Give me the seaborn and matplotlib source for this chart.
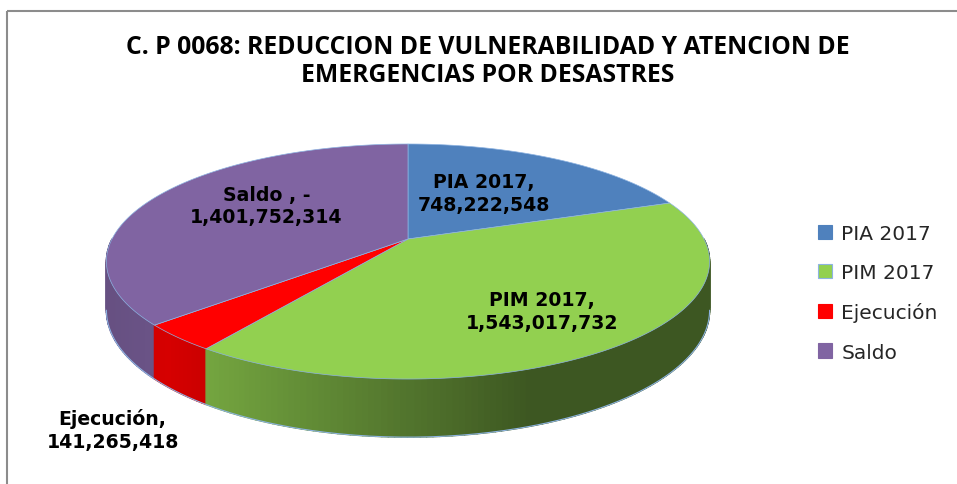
import numpy as np
import matplotlib
matplotlib.use("Agg")
import matplotlib.pyplot as plt
from matplotlib.collections import PolyCollection
from matplotlib.patches import Polygon, Rectangle, Patch
import seaborn as sns

# data
title_lines = ["C. P 0068: REDUCCION DE VULNERABILIDAD Y ATENCION DE",
               "EMERGENCIAS POR DESASTRES"]
categories = ["PIA 2017", "PIM 2017", "Ejecución", "Saldo"]
values = [748222548, 1543017732, 141265418, 1401752314]
label_texts = ["PIA 2017,\n748,222,548", "PIM 2017,\n1,543,017,732",
               "Ejecución,\n141,265,418", "Saldo , -\n1,401,752,314"]
colors = ["#4f81bd", "#92d050", "#ff0000", "#8064a2"]

# layout of the fake 3d pie (pixels)
CX, CY = 408, 240
A, B = 296, 113.2
P = 0.1915
DEPTH = 47
# label placement: radius, dx, dy
label_pos = [(0.54, -9, 0), (0.71, -9, 0), (1.2, -10, 68), (0.6, 13, -7)]


def project(theta, r=1.0, drop=0.0):
    th = np.radians(theta)
    w = 1 + P * r * np.sin(th)
    x = CX + A * r * np.cos(th) / w
    y = CY - B * r * np.sin(th) / w + drop / w
    return x, y


def shade(color, x):
    t = (x - (CX - 300)) / 600
    f = np.interp(t, [0.0, 0.1, 0.7, 1.0], [0.8, 0.84, 0.42, 0.42])
    rgb = np.array(matplotlib.colors.to_rgb(color))
    return tuple(np.clip(rgb * f, 0, 1))


def main():
    sns.set_theme(style="white")
    pal = sns.color_palette(colors)

    fig = plt.figure(figsize=(9.57, 4.85), dpi=100)
    ax = fig.add_axes([0, 0, 1, 1])
    ax.set_xlim(0, 957)
    ax.set_ylim(485, 0)
    ax.axis("off")

    ax.add_patch(Rectangle((7, 12), 980, 500, fill=False,
                           edgecolor="#8c8c8c", lw=1.5, clip_on=False))

    total = sum(values)
    spans = [v / total * 360 for v in values]
    starts = []
    a = 90.0
    for s in spans:
        starts.append(a)
        a -= s

    # side wall, front half only
    quads, qcols, depth_key = [], [], []
    for i, (st, sp) in enumerate(zip(starts, spans)):
        hi, lo = st, st - sp
        for off in (0, -360, 360):
            h2, l2 = min(hi + off, 0), max(lo + off, -180)
            if h2 <= l2:
                continue
            th = np.linspace(l2, h2, max(int(h2 - l2), 1) + 1)
            for t1, t2 in zip(th[:-1], th[1:]):
                x1, y1 = project(t1)
                x2, y2 = project(t2)
                _, b1 = project(t1, drop=DEPTH)
                _, b2 = project(t2, drop=DEPTH)
                quads.append([(x1, y1), (x2, y2), (x2, b2), (x1, b1)])
                qcols.append(shade(pal[i], (x1 + x2) / 2))
                depth_key.append(np.sin(np.radians((t1 + t2) / 2)))
    order = np.argsort(depth_key)[::-1]
    quads = [quads[k] for k in order]
    qcols = [qcols[k] for k in order]
    ax.add_collection(PolyCollection(quads, facecolors=qcols,
                                     edgecolors=qcols, linewidths=1.0))

    th = np.linspace(-169, -11, 200)
    bx, by = project(th, drop=DEPTH)
    ax.plot(bx, by, color="#8db3e2", lw=0.8)

    # top face
    for i, (st, sp) in enumerate(zip(starts, spans)):
        th = np.linspace(st, st - sp, max(int(sp), 2) * 2)
        xs, ys = project(th)
        pts = [(CX, CY)] + list(zip(xs, ys))
        ax.add_patch(Polygon(pts, closed=True, facecolor=pal[i],
                             edgecolor="#8db3e2", lw=0.5))

    # data labels
    for i, (st, sp) in enumerate(zip(starts, spans)):
        r, dx, dy = label_pos[i]
        lx, ly = project(st - sp / 2, r=r)
        ax.text(lx + dx, ly + dy, label_texts[i], ha="center", va="center",
                fontsize=13.6, fontweight="bold", color="black",
                family="DejaVu Sans", linespacing=1.25)

    for k, line in enumerate(title_lines):
        ax.text(488, 47 + 28.5 * k, line, ha="center", va="center",
                fontsize=17.8, fontweight="bold", family="Open Sans",
                color="black")

    handles = [Patch(facecolor=pal[i], edgecolor="#8db3e2" if i == 1 else pal[i],
                     lw=0.8) for i in range(len(categories))]
    ax.legend(handles, categories, loc="upper left",
              bbox_to_anchor=(800 / 957, 1 - 207 / 485),
              bbox_transform=fig.transFigure, frameon=False,
              handlelength=0.7, handleheight=0.7, handletextpad=0.45,
              labelspacing=1.0, prop={"family": "DejaVu Sans", "size": 14.5})

    fig.savefig("out.png", dpi=100, facecolor="white")


if __name__ == "__main__":
    main()
